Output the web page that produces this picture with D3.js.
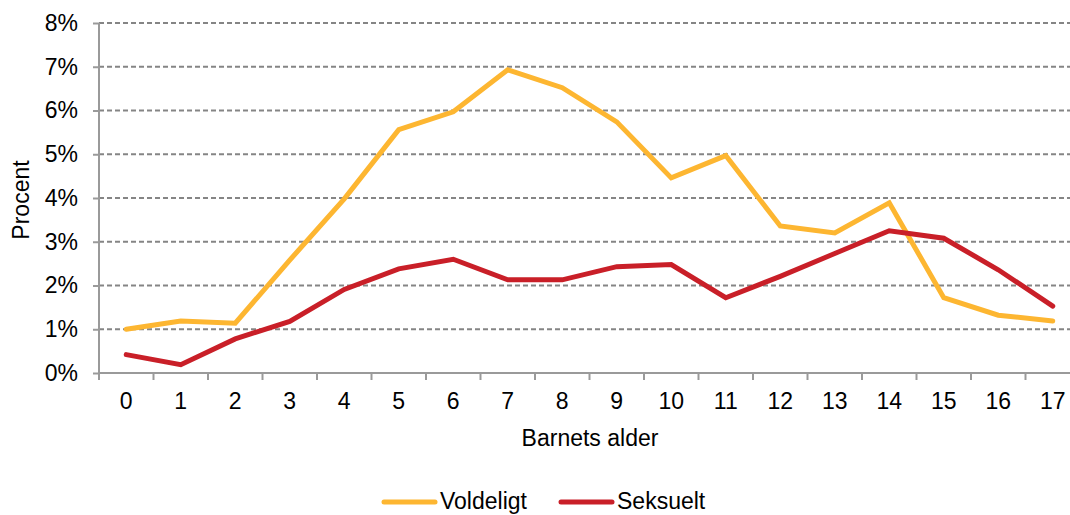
<!DOCTYPE html>
<html lang="da">
<head>
    <meta charset="UTF-8">
    <title>Barnets alder</title>
    <script src="https://d3js.org/d3.v7.min.js"></script>
    <style>
        body {
            margin: 0;
            background: #fff;
        }
        text {
            font-family: "Liberation Sans", Arial, sans-serif;
            fill: #000;
        }
        .grid line {
            stroke: #858585;
            stroke-width: 1.8;
            stroke-dasharray: 5,3;
        }
        .axis line {
            stroke: #9a9a9a;
            stroke-width: 2;
        }
    </style>
</head>
<body>
    <svg id="chart" width="1070" height="515"></svg>
    <script>
        const ages = d3.range(0, 18).map(String);
        const voldeligt = [1.0, 1.19, 1.14, 2.58, 3.98, 5.56, 5.97, 6.93, 6.52, 5.74, 4.46, 4.97, 3.36, 3.2, 3.89, 1.72, 1.32, 1.19];
        const seksuelt = [0.42, 0.19, 0.78, 1.18, 1.91, 2.38, 2.6, 2.13, 2.13, 2.43, 2.48, 1.72, 2.21, 2.73, 3.25, 3.08, 2.36, 1.53];
        const yTicks = [0, 1, 2, 3, 4, 5, 6, 7, 8];
        const series = [
            { name: "Voldeligt", values: voldeligt, color: "#FDB631" },
            { name: "Seksuelt", values: seksuelt, color: "#C91F28" }
        ];

        const svg = d3.select("#chart");
        const plotLeft = 99, plotRight = 1080, plotTop = 23, plotBottom = 373;
        const fontSize = "23px";

        const x = d3.scaleBand().domain(ages).range([plotLeft, plotRight]);
        const y = d3.scaleLinear().domain([0, 8]).range([plotBottom, plotTop]);

        // gridlines
        svg.append("g")
            .attr("class", "grid")
            .selectAll("line")
            .data(yTicks.filter(d => d > 0))
            .enter().append("line")
            .attr("x1", plotLeft)
            .attr("x2", plotRight)
            .attr("y1", d => y(d))
            .attr("y2", d => y(d));

        // y axis
        const yAxis = svg.append("g")
            .attr("class", "axis")
            .attr("transform", `translate(${plotLeft},0)`)
            .call(d3.axisLeft(y).tickValues(yTicks).tickSize(6).tickPadding(15).tickFormat(d => d + "%"));
        yAxis.selectAll("text").style("font-size", fontSize);

        // x axis, ticks between categories
        const xAxis = svg.append("g")
            .attr("class", "axis")
            .attr("transform", `translate(0,${plotBottom})`)
            .call(d3.axisBottom(x).tickSize(0).tickPadding(20));
        xAxis.selectAll("text").style("font-size", fontSize);
        xAxis.selectAll(".sep")
            .data(d3.range(0, ages.length + 1))
            .enter().append("line")
            .attr("class", "sep")
            .attr("x1", i => plotLeft + i * x.bandwidth())
            .attr("x2", i => plotLeft + i * x.bandwidth())
            .attr("y1", 0)
            .attr("y2", 7);
        svg.selectAll(".axis .domain").remove();
        svg.append("line").attr("x1", plotLeft).attr("x2", plotLeft).attr("y1", plotTop).attr("y2", plotBottom)
            .attr("stroke", "#9a9a9a").attr("stroke-width", 2);
        svg.append("line").attr("x1", plotLeft).attr("x2", plotRight).attr("y1", plotBottom).attr("y2", plotBottom)
            .attr("stroke", "#9a9a9a").attr("stroke-width", 2);

        const line = d3.line()
            .x((d, i) => x(ages[i]) + x.bandwidth() / 2)
            .y(d => y(d));

        series.forEach(s => {
            svg.append("path")
                .datum(s.values)
                .attr("fill", "none")
                .attr("stroke", s.color)
                .attr("stroke-width", 5)
                .attr("stroke-linejoin", "miter")
                .attr("stroke-linecap", "round")
                .attr("d", line);
        });

        // axis titles
        svg.append("text")
            .attr("transform", "translate(29,200) rotate(-90)")
            .attr("text-anchor", "middle")
            .style("font-size", fontSize)
            .text("Procent");
        svg.append("text")
            .attr("x", 590)
            .attr("y", 446)
            .attr("text-anchor", "middle")
            .style("font-size", fontSize)
            .text("Barnets alder");

        // legend
        const legendX = [382, 559];
        series.forEach((s, i) => {
            const g = svg.append("g").attr("transform", `translate(${legendX[i]},502)`);
            g.append("line")
                .attr("x1", 2).attr("x2", 53)
                .attr("stroke", s.color)
                .attr("stroke-width", 5)
                .attr("stroke-linecap", "round");
            g.append("text")
                .attr("x", 58)
                .attr("y", 7)
                .style("font-size", fontSize)
                .text(s.name);
        });
    </script>
</body>
</html>
